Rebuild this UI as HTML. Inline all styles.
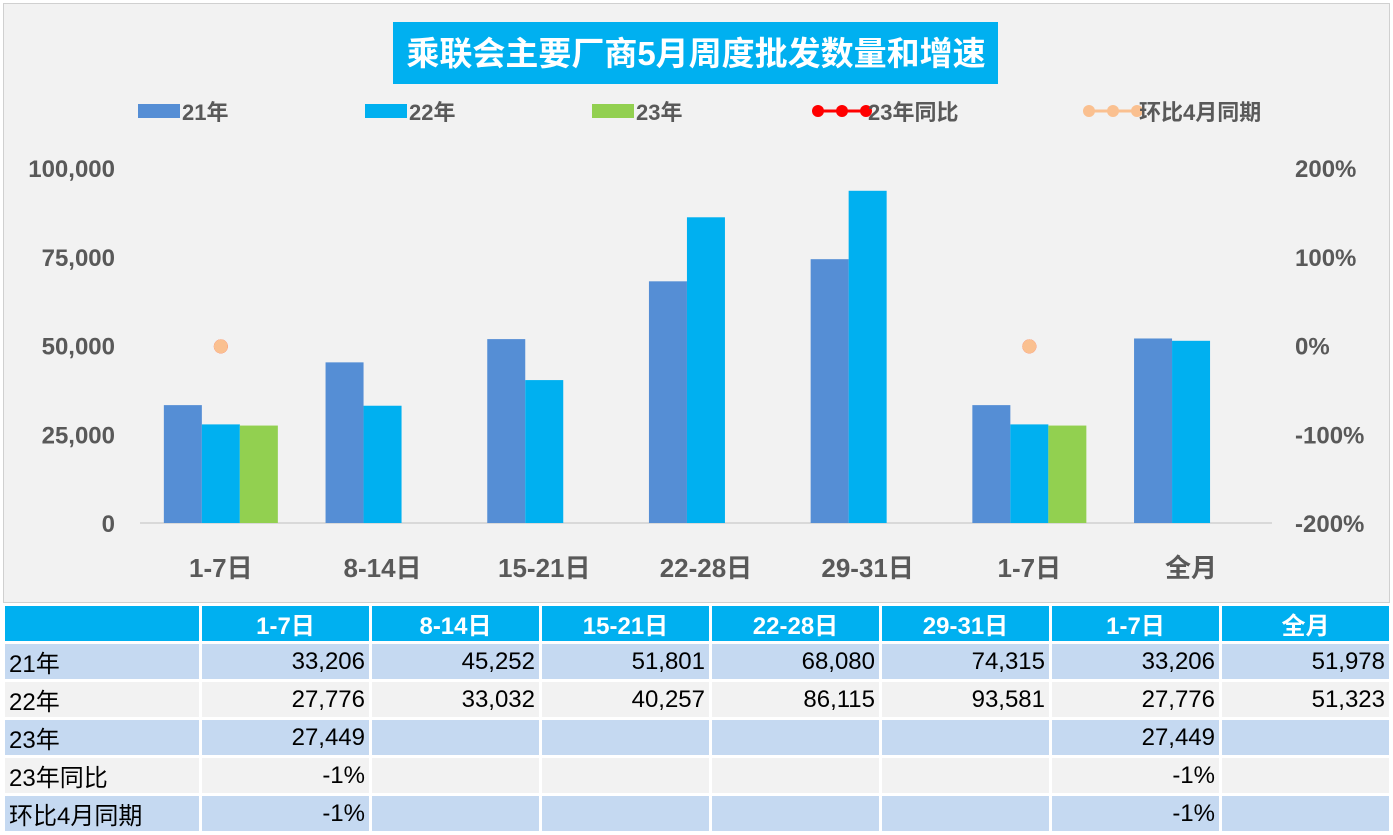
<!DOCTYPE html>
<html><head><meta charset="utf-8"><style>
body{margin:0;background:#fff;width:1393px;height:835px;overflow:hidden;font-family:"Liberation Sans","Noto Sans CJK SC",sans-serif}
#chart{position:absolute;left:3px;top:3px;width:1385px;height:598px;background:#f2f2f2;border:1px solid #d0d0d0}
table{position:absolute;left:2px;top:603px;border-collapse:separate;border-spacing:3px 3px}
td{height:35px;padding:0 4px;font-size:24px;color:#000;text-align:right;box-sizing:border-box}
td:first-child{text-align:left}
tr.h td{background:#00b0f0;color:#fff;font-weight:bold;text-align:center;height:34px}
tr.b td{background:#c5d9f1}
tr.g td{background:#f2f2f2}
</style></head><body>
<svg id="chart" width="1385" height="598" xmlns="http://www.w3.org/2000/svg"></svg>
<table>
<tr class="h"><td style="width:194px"></td><td style="width:167px">1-7日</td><td style="width:167px">8-14日</td><td style="width:167px">15-21日</td><td style="width:167px">22-28日</td><td style="width:167px">29-31日</td><td style="width:167px">1-7日</td><td style="width:167px">全月</td></tr>
<tr class="b"><td>21年</td><td>33,206</td><td>45,252</td><td>51,801</td><td>68,080</td><td>74,315</td><td>33,206</td><td>51,978</td></tr>
<tr class="g"><td>22年</td><td>27,776</td><td>33,032</td><td>40,257</td><td>86,115</td><td>93,581</td><td>27,776</td><td>51,323</td></tr>
<tr class="b"><td>23年</td><td>27,449</td><td></td><td></td><td></td><td></td><td>27,449</td><td></td></tr>
<tr class="g"><td>23年同比</td><td>-1%</td><td></td><td></td><td></td><td></td><td>-1%</td><td></td></tr>
<tr class="b"><td>环比4月同期</td><td>-1%</td><td></td><td></td><td></td><td></td><td>-1%</td><td></td></tr>
</table>
<script>
const categories=["1-7日","8-14日","15-21日","22-28日","29-31日","1-7日","全月"];
const s21=[33206,45252,51801,68080,74315,33206,51978];
const s22=[27776,33032,40257,86115,93581,27776,51323];
const s23=[27449,null,null,null,null,27449,null];
const yoy=[-0.01,null,null,null,null,-0.01,null];
const mom=[-0.01,null,null,null,null,-0.01,null];
const leftTicks=[0,25000,50000,75000,100000];
const rightTicks=[-2,-1,0,1,2];
const NS="http://www.w3.org/2000/svg",svg=document.getElementById('chart');
const ox=-4,oy=-4;
const y=v=>523+oy-(v/100000)*355;
const yr=v=>345.5+oy-(v/2)*177.5;
const cx=i=>140+ox+161.7*(i+0.5);
function el(t,a,txt){const e=document.createElementNS(NS,t);for(const k in a)e.setAttribute(k,a[k]);if(txt!==undefined)e.textContent=txt;svg.appendChild(e);return e;}
let e;
e=el('rect',{x:393+ox,y:22+oy,width:605,height:62,fill:'#00b0f0'});

e=el('text',{x:696+ox,y:65+oy,'text-anchor':'middle','font-size':33,'font-weight':'bold',fill:'#fff'},'乘联会主要厂商5月周度批发数量和增速');

const leg=[["21年","#558ed5",138,'bar'],["22年","#00b0f0",365,'bar'],["23年","#92d050",592,'bar'],["23年同比","#ff0000",812,'line'],["环比4月同期","#fac090",1083,'line']];
leg.forEach(l=>{
 if(l[3]=='bar'){e=el('rect',{x:l[2]+ox,y:104+oy,width:42,height:14,fill:l[1]});}
 else{e=el('line',{x1:l[2]+ox+6,x2:l[2]+ox+54,y1:111+oy,y2:111+oy,stroke:l[1],'stroke-width':3});
  [6,30,54].forEach(d=>el('circle',{cx:l[2]+ox+d,cy:111+oy,r:6,fill:l[1]}));}
 
 e=el('text',{x:l[2]+ox+(l[3]=='bar'?44:56),y:120+oy,'font-size':22,'font-weight':'bold',fill:'#595959'},l[0]);
 
});
leftTicks.forEach(t=>{e=el('text',{x:115+ox,y:y(t)+9,'text-anchor':'end','font-size':24,'font-weight':'bold',fill:'#595959'},t.toLocaleString('en-US'));
 });
rightTicks.forEach(t=>{e=el('text',{x:1295+ox,y:yr(t)+9,'font-size':24,'font-weight':'bold',fill:'#595959'},Math.round(t*100)+'%');
 });
e=el('line',{x1:140+ox,x2:1272+ox,y1:y(0),y2:y(0),stroke:'#d9d9d9','stroke-width':2});

const series=[[s21,'#558ed5'],[s22,'#00b0f0'],[s23,'#92d050']];
categories.forEach((c,i)=>{
 series.forEach((s,k)=>{const v=s[0][i];if(v==null)return;
  e=el('rect',{x:cx(i)-57+k*38,y:y(v),width:38,height:y(0)-y(v),fill:s[1]});
  });
 if(yoy[i]!=null){e=el('circle',{cx:cx(i),cy:yr(yoy[i]),r:7,fill:'#ff0000'});}
 if(mom[i]!=null){e=el('circle',{cx:cx(i),cy:yr(mom[i]),r:7,fill:'#fac090'});}
 e=el('text',{x:cx(i),y:577+oy,'text-anchor':'middle','font-size':26,'font-weight':'bold',fill:'#595959'},c);
 
});
</script>
</body></html>
